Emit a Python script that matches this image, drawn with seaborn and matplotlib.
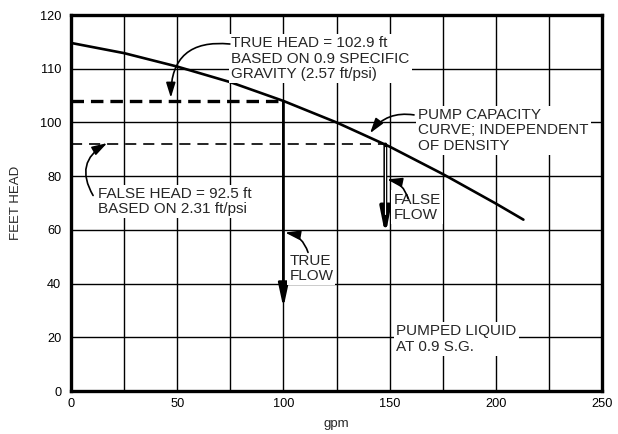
import numpy as np
import matplotlib
matplotlib.use("Agg")
import matplotlib.pyplot as plt
import seaborn as sns
from matplotlib.ticker import FixedLocator

# pump capacity curve (feet head as labelled on the axis)
gpm = [0, 25, 50, 75, 100, 125, 150, 175, 200, 213]
feet_head = [114.8, 112.9, 110.4, 107.5, 104.0, 100.0, 91.0, 80.8, 69.8, 63.8]

# the y axis gridlines are evenly spaced but labelled unevenly
y_ticks = [0, 20, 40, 60, 80, 100, 110, 120]
x_ticks = [0, 50, 100, 150, 200, 250]
x_grid = [25, 75, 125, 175, 225]

true_head = 104.0      # drawn level of the "102.9 ft" line
false_head = 91.8      # drawn level of the "92.5 ft" line
true_flow = 100
false_flow = 148
true_flow_end = 31
false_flow_end = 58

grid_pos = np.arange(len(y_ticks))


def fwd(y):
    return np.interp(y, y_ticks, grid_pos)


def inv(p):
    return np.interp(p, grid_pos, y_ticks)


sns.set_style("white")
plt.rcParams['font.family'] = ['Liberation Sans', 'DejaVu Sans']
plt.rcParams['lines.scale_dashes'] = False

fig = plt.figure(figsize=(6.18, 4.34), dpi=100)
ax = fig.add_axes([71/618, 1-391/434, (602-71)/618, (391-15)/434])
ax.set_yscale('function', functions=(fwd, inv))
ax.set_xlim(0, 250)
ax.set_ylim(0, 120)

ax.yaxis.set_major_locator(FixedLocator(y_ticks))
ax.yaxis.set_minor_locator(FixedLocator([]))
ax.xaxis.set_major_locator(FixedLocator(x_ticks))
ax.xaxis.set_minor_locator(FixedLocator(x_grid))
ax.grid(True, which='both', color='black', lw=1.0)
ax.set_axisbelow(True)
ax.tick_params(axis='both', which='both', length=0, labelsize=9.2, colors='black')
ax.tick_params(axis='y', pad=7)
ax.tick_params(axis='x', pad=5)
for s in ax.spines.values():
    s.set_linewidth(2.4)
    s.set_color('black')
    s.set_zorder(5)

ax.set_ylabel('FEET HEAD', fontsize=9.5, labelpad=13)
ax.set_xlabel('gpm', fontsize=9.5, labelpad=6)

# capacity curve
sns.lineplot(x=gpm, y=feet_head, color='black', lw=1.9, ax=ax, zorder=4)

# head lines
ax.plot([0, true_flow], [true_head, true_head], color='black', lw=2.4,
        dashes=(9, 5), zorder=3)
ax.plot([0, false_flow], [false_head, false_head], color='black', lw=1.2,
        dashes=(8, 5), zorder=3)

# flow arrows
ax.annotate('', xy=(true_flow, true_flow_end), xytext=(true_flow, true_head),
            arrowprops=dict(arrowstyle='-|>,head_length=1.4,head_width=0.3',
                            color='black', lw=2.0, mutation_scale=10,
                            shrinkA=0, shrinkB=0), zorder=4)
ax.annotate('', xy=(false_flow, false_flow_end), xytext=(false_flow, false_head),
            arrowprops=dict(arrowstyle='-|>,head_length=1.5,head_width=0.3',
                            color='black', lw=2.8, mutation_scale=10,
                            shrinkA=0, shrinkB=0), zorder=4)
ax.plot([false_flow, false_flow], [false_head - 1.0, 66], color='white', lw=0.8, zorder=5)

box = dict(fc='white', ec='none', pad=1.5)
tkw = dict(fontsize=11, ha='left', va='top', linespacing=1.12, bbox=box, zorder=6)
ax.text(75.5, 116.0, 'TRUE HEAD = 102.9 ft\nBASED ON 0.9 SPECIFIC\nGRAVITY (2.57 ft/psi)', **tkw)
ax.text(12.5, 76.0, 'FALSE HEAD = 92.5 ft\nBASED ON 2.31 ft/psi', **tkw)
ax.text(163.5, 102.7, 'PUMP CAPACITY\nCURVE; INDEPENDENT\nOF DENSITY', **tkw)
ax.text(151.8, 73.9, 'FALSE\nFLOW', **tkw)
ax.text(102.8, 51.0, 'TRUE\nFLOW', **tkw)
ax.text(153.2, 24.8, 'PUMPED LIQUID\nAT 0.9 S.G.', **tkw)

small = dict(arrowstyle='-|>,head_length=0.9,head_width=0.28', color='black',
             lw=1.2, mutation_scale=10, shrinkA=0, shrinkB=0)
ax.annotate('', xy=(47, 104.6), xytext=(74.8, 114.6),
            arrowprops=dict(small, connectionstyle='arc3,rad=0.55'), zorder=7)
ax.annotate('', xy=(17, 92.3), xytext=(10.4, 72.8),
            arrowprops=dict(small, connectionstyle='arc3,rad=-0.5'), zorder=7)
ax.annotate('', xy=(140.8, 96.0), xytext=(161.5, 101.4),
            arrowprops=dict(small, connectionstyle='arc3,rad=0.3'), zorder=7)
ax.annotate('', xy=(148.8, 78.8), xytext=(158.7, 71.6),
            arrowprops=dict(small, connectionstyle='arc3,rad=0.3'), zorder=7)
ax.annotate('', xy=(100.8, 59.0), xytext=(111.6, 51.6),
            arrowprops=dict(small, connectionstyle='arc3,rad=0.3'), zorder=7)

fig.savefig('out.png', dpi=100, facecolor='white')
